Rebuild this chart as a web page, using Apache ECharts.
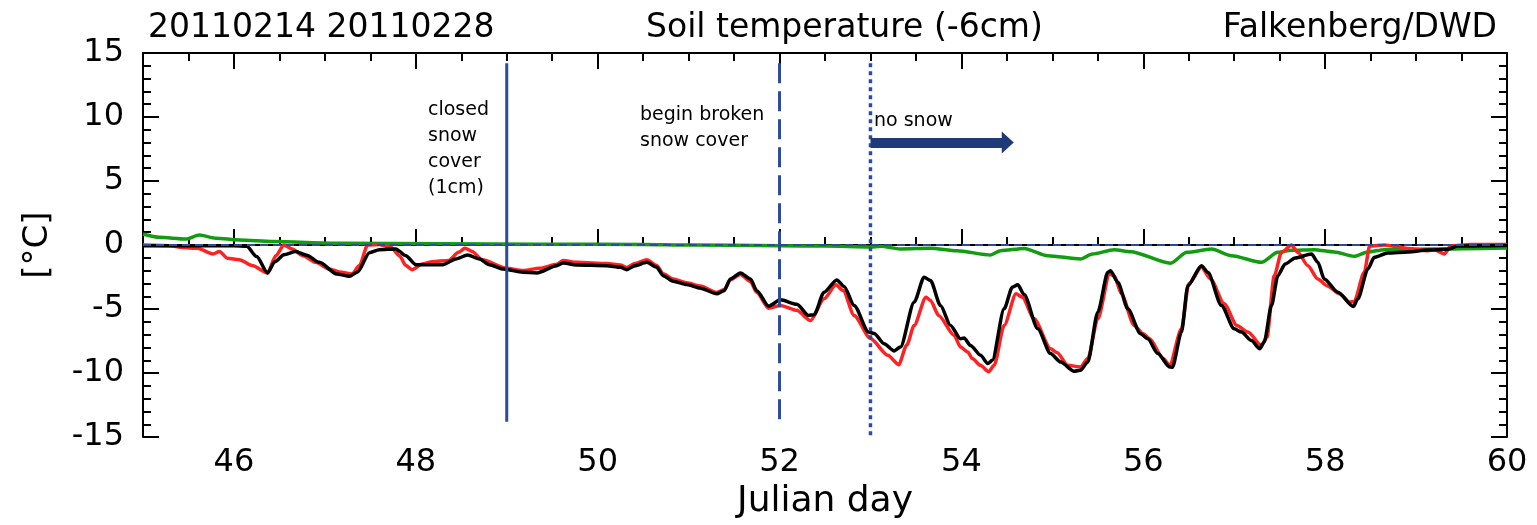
<!DOCTYPE html>
<html>
<head>
<meta charset="utf-8">
<script src="https://cdn.jsdelivr.net/npm/echarts@6/dist/echarts.min.js"></script>
<style>
  html, body { margin: 0; padding: 0; background: #fff; }
  #chart { width: 1537px; height: 525px; }
</style>
</head>
<body>
<div id="chart"></div>
<script>
// Soil temperature at -6 cm, Falkenberg/DWD, Julian days 45-60 (2011)
const redDays = [45.0, 45.3, 45.43, 45.6, 45.77, 45.84, 45.93, 46.06, 46.2, 46.37, 46.46, 46.55, 46.64, 46.76, 46.9, 47.05, 47.16, 47.3, 47.38, 47.47, 47.6, 47.73, 47.82, 47.89, 47.96, 48.07, 48.18, 48.36, 48.47, 48.54, 48.62, 48.73, 49.0, 49.18, 49.36, 49.55, 49.62, 49.77, 50.1, 50.25, 50.32, 50.41, 50.54, 50.65, 50.72, 50.83, 50.98, 51.13, 51.31, 51.39, 51.46, 51.57, 51.68, 51.75, 51.88, 52.01, 52.19, 52.34, 52.49, 52.62, 52.7, 52.82, 53.0, 53.19, 53.31, 53.4, 53.48, 53.61, 53.66, 53.75, 53.92, 53.99, 54.07, 54.12, 54.21, 54.3, 54.36, 54.47, 54.6, 54.67, 54.8, 54.98, 55.05, 55.17, 55.31, 55.39, 55.5, 55.63, 55.68, 55.76, 55.9, 56.0, 56.07, 56.22, 56.29, 56.42, 56.5, 56.64, 56.74, 56.89, 57.03, 57.15, 57.3, 57.36, 57.44, 57.52, 57.63, 57.7, 57.81, 57.92, 58.02, 58.16, 58.27, 58.32, 58.43, 58.49, 58.65, 58.78, 58.91, 59.13, 59.2, 59.31, 59.38, 59.6, 60.0];
const redTemps = [0.0, -0.05, -0.2, -0.25, -0.7, -0.5, -1.04, -1.14, -1.6, -2.18, -0.83, 0.0, -0.3, -0.83, -1.35, -1.87, -2.1, -2.26, -1.6, 0.0, 0.05, -0.2, -0.83, -1.6, -1.92, -1.48, -1.3, -1.2, -0.57, -0.25, -0.5, -1.15, -1.82, -1.99, -1.82, -1.5, -1.2, -1.35, -1.45, -1.55, -1.75, -1.45, -1.15, -1.6, -2.25, -2.65, -2.95, -3.2, -3.7, -3.5, -2.7, -2.3, -2.85, -3.7, -4.93, -4.72, -5.1, -5.89, -4.2, -3.11, -3.55, -5.5, -7.3, -8.6, -9.34, -7.8, -6.28, -4.07, -4.33, -5.5, -7.06, -7.96, -8.35, -8.87, -9.39, -9.9, -9.39, -6.28, -3.81, -4.07, -5.76, -8.09, -8.4, -9.39, -9.52, -8.87, -5.76, -2.26, -2.4, -3.81, -6.28, -6.93, -7.32, -8.87, -9.39, -6.54, -3.03, -1.74, -2.65, -4.59, -6.28, -6.8, -7.84, -7.2, -2.4, -0.57, 0.0, -0.57, -1.61, -2.65, -3.17, -3.81, -4.46, -4.4, -2.13, -0.08, 0.0, -0.1, -0.26, -0.44, -0.35, -0.7, -0.08, 0.05, 0.05];

const blackDays = [45.0, 45.5, 46.0, 46.14, 46.25, 46.37, 46.45, 46.55, 46.68, 46.8, 46.94, 47.13, 47.27, 47.36, 47.49, 47.6, 47.78, 47.89, 48.0, 48.3, 48.44, 48.57, 48.7, 48.81, 48.96, 49.18, 49.33, 49.55, 49.62, 49.77, 50.1, 50.25, 50.32, 50.41, 50.54, 50.65, 50.72, 50.83, 50.98, 51.13, 51.31, 51.39, 51.46, 51.57, 51.68, 51.75, 51.88, 52.01, 52.19, 52.32, 52.38, 52.49, 52.63, 52.71, 52.82, 52.98, 53.04, 53.15, 53.26, 53.33, 53.48, 53.59, 53.66, 53.77, 53.88, 53.99, 54.03, 54.1, 54.21, 54.29, 54.34, 54.47, 54.56, 54.62, 54.69, 54.84, 54.98, 55.09, 55.24, 55.31, 55.39, 55.5, 55.61, 55.64, 55.72, 55.83, 55.97, 56.05, 56.16, 56.29, 56.32, 56.42, 56.49, 56.64, 56.71, 56.86, 57.0, 57.08, 57.19, 57.28, 57.33, 57.41, 57.48, 57.56, 57.67, 57.85, 57.92, 57.99, 58.14, 58.31, 58.36, 58.47, 58.54, 58.69, 58.91, 59.13, 59.35, 59.46, 59.97, 60.0];
const blackTemps = [-0.05, -0.05, -0.05, -0.1, -0.9, -2.18, -1.3, -0.75, -0.5, -0.8, -1.35, -2.26, -2.44, -2.1, -0.6, -0.36, -0.3, -0.83, -1.53, -1.53, -1.09, -0.78, -1.09, -1.53, -1.87, -2.12, -2.18, -1.61, -1.4, -1.56, -1.61, -1.74, -1.92, -1.61, -1.35, -1.74, -2.39, -2.83, -3.09, -3.37, -3.81, -3.56, -2.65, -2.18, -2.65, -3.56, -4.77, -4.28, -4.62, -5.5, -5.44, -3.68, -2.72, -3.24, -4.72, -6.8, -6.9, -7.7, -8.27, -7.96, -4.46, -2.51, -2.77, -4.72, -6.28, -7.32, -7.26, -7.84, -8.6, -9.26, -9.0, -4.98, -3.29, -3.1, -3.87, -6.54, -8.48, -9.13, -9.86, -9.78, -9.13, -5.24, -2.13, -2.0, -2.91, -4.98, -6.93, -7.32, -8.48, -9.52, -9.55, -6.8, -3.17, -1.61, -2.13, -4.72, -6.54, -6.8, -7.46, -8.1, -7.57, -4.72, -2.39, -1.48, -1.01, -0.7, -1.35, -2.65, -3.68, -4.8, -4.2, -1.87, -0.96, -0.62, -0.54, -0.39, -0.33, -0.08, -0.03, -0.03];

const greenDays = [45.0, 45.18, 45.47, 45.62, 45.8, 46.06, 46.43, 47.16, 48.3, 49.36, 50.5, 51.0, 52.0, 52.5, 53.0, 53.11, 53.33, 53.66, 53.95, 54.32, 54.43, 54.69, 54.95, 55.31, 55.44, 55.68, 55.86, 56.3, 56.48, 56.75, 56.97, 57.3, 57.48, 57.63, 57.88, 58.1, 58.32, 58.47, 58.65, 59.2, 60.0];
const greenTemps = [0.86, 0.6, 0.47, 0.78, 0.54, 0.4, 0.27, 0.14, 0.11, 0.06, 0.05, 0.0, -0.05, -0.08, -0.15, -0.1, -0.3, -0.25, -0.44, -0.78, -0.44, -0.26, -0.83, -1.09, -0.7, -0.36, -0.52, -1.42, -0.57, -0.31, -0.83, -1.35, -0.57, -0.41, -0.36, -0.54, -0.88, -0.54, -0.36, -0.31, -0.23];

// Snow-cover events: closed cover, begin of broken cover, no snow
const eventDays = [49, 52, 53];
const eventTop = [14.2, 14.2, 14.2];
const eventBottom = [-13.8, -13.8, -14.9];
const eventStyles = [{ type: 'solid', width: 3 }, { type: [20, 8], width: 3 }, { type: [4, 4], width: 3.5 }];
const eventTexts = ['closed\nsnow\ncover\n(1cm)', 'begin broken\nsnow cover', 'no snow'];

// "no snow" arrow span (days) and level (°C)
const arrowDays = [53.0, 54.51];
const arrowLevel = 8.0;

const xMajorTicks = [46, 48, 50, 52, 54, 56, 58, 60];
const xMinorTicks = [45.5, 46.5, 47, 47.5, 48.5, 49, 49.5, 50.5, 51, 51.5, 52.5, 53, 53.5, 54.5, 55, 55.5, 56.5, 57, 57.5, 58.5, 59, 59.5];

const FONT = 'DejaVu Sans';
const BLUE = '#2c4b9b';

function pairs(xs, ys) { return xs.map((x, i) => [x, ys[i]]); }

const chart = echarts.init(document.getElementById('chart'));

const xBase = { type: 'value', min: 45, max: 60, gridIndex: 0, splitLine: { show: false } };
const lineBlack = { show: true, lineStyle: { color: '#000', width: 2 } };

const xAxes = [
  Object.assign({}, xBase, {
    position: 'bottom',
    name: 'Julian day', nameLocation: 'middle', nameGap: 44,
    nameTextStyle: { fontFamily: FONT, fontSize: 36, color: '#000' },
    axisLine: lineBlack,
    axisTick: { inside: true, length: 16, customValues: xMajorTicks, lineStyle: { color: '#000', width: 2 } },
    axisLabel: { customValues: xMajorTicks, fontFamily: FONT, fontSize: 32, color: '#000', margin: 10 }
  }),
  Object.assign({}, xBase, {
    position: 'bottom', axisLine: { show: false },
    axisTick: { inside: true, length: 8, customValues: xMinorTicks, lineStyle: { color: '#000', width: 2 } },
    axisLabel: { show: false }
  }),
  Object.assign({}, xBase, {
    position: 'top', axisLine: lineBlack,
    axisTick: { inside: true, length: 16, customValues: xMajorTicks, lineStyle: { color: '#000', width: 2 } },
    axisLabel: { show: false }
  }),
  Object.assign({}, xBase, {
    position: 'top', axisLine: { show: false },
    axisTick: { inside: true, length: 8, customValues: xMinorTicks, lineStyle: { color: '#000', width: 2 } },
    axisLabel: { show: false }
  })
];

const yBase = { type: 'value', min: -15, max: 15, interval: 5, splitLine: { show: false } };
const yAxes = [
  Object.assign({}, yBase, {
    position: 'left',
    name: '[°C]', nameLocation: 'middle', nameGap: 88,
    nameTextStyle: { fontFamily: FONT, fontSize: 34, color: '#000' },
    axisLine: lineBlack,
    axisTick: { inside: true, length: 16, lineStyle: { color: '#000', width: 2 } },
    minorTick: { show: true, splitNumber: 5, length: 8, lineStyle: { color: '#000', width: 2 } },
    axisLabel: { fontFamily: FONT, fontSize: 32, color: '#000', margin: 19 }
  }),
  Object.assign({}, yBase, {
    position: 'right', axisLine: lineBlack,
    axisTick: { inside: true, length: 16, lineStyle: { color: '#000', width: 2 } },
    minorTick: { show: true, splitNumber: 5, length: 8, lineStyle: { color: '#000', width: 2 } },
    axisLabel: { show: false }
  })
];

function curve(name, xs, ys, color) {
  return {
    name, type: 'line', xAxisIndex: 0, yAxisIndex: 0,
    data: pairs(xs, ys), showSymbol: false, silent: true,
    smooth: 0.25, smoothMonotone: 'x',
    lineStyle: { color, width: 3.5 }
  };
}

const series = [
  curve('green', greenDays, greenTemps, '#119c11'),
  curve('red', redDays, redTemps, '#ff2222'),
  curve('black', blackDays, blackTemps, '#000000'),
  {
    name: 'zero', type: 'line', showSymbol: false, silent: true,
    data: [[45, 0], [60, 0]],
    lineStyle: { color: BLUE, width: 2, type: [8, 5] }
  }
];

eventDays.forEach((d, i) => {
  series.push({
    name: 'event' + i, type: 'line', showSymbol: false, silent: true,
    data: [[d, eventTop[i]], [d, eventBottom[i]]],
    lineStyle: { color: BLUE, width: eventStyles[i].width, type: eventStyles[i].type, cap: 'butt' }
  });
});

series.push({
  name: 'arrow', type: 'line', showSymbol: false, silent: true,
  data: [], lineStyle: { opacity: 0 },
  markLine: {
    silent: true, animation: false,
    symbol: ['none', 'triangle'], symbolSize: [22, 12],
    label: { show: false },
    lineStyle: { color: '#1f3a78', width: 10, type: 'solid' },
    data: [[{ coord: [arrowDays[0], arrowLevel] }, { coord: [arrowDays[1], arrowLevel] }]]
  }
});

const textStyle = (size) => ({ fontFamily: FONT, fontSize: size, fill: '#000' });

chart.setOption({
  animation: false,
  backgroundColor: '#ffffff',
  grid: { left: 143, right: 30, top: 53, bottom: 86, containLabel: false },
  xAxis: xAxes,
  yAxis: yAxes,
  series,
  graphic: [
    { type: 'text', left: 148, top: 12, style: Object.assign(textStyle(33), { text: '20110214 20110228' }) },
    { type: 'text', left: 646, top: 12, style: Object.assign(textStyle(33), { text: 'Soil temperature (-6cm)' }) },
    { type: 'text', right: 40, top: 12, style: Object.assign(textStyle(33), { text: 'Falkenberg/DWD' }) },
    { type: 'text', left: 428, top: 97, style: Object.assign(textStyle(19), { text: eventTexts[0], lineHeight: 26 }) },
    { type: 'text', left: 640, top: 102, style: Object.assign(textStyle(19), { text: eventTexts[1], lineHeight: 26 }) },
    { type: 'text', left: 874, top: 108, style: Object.assign(textStyle(19), { text: eventTexts[2], lineHeight: 26 }) }
  ]
});
</script>
</body>
</html>
